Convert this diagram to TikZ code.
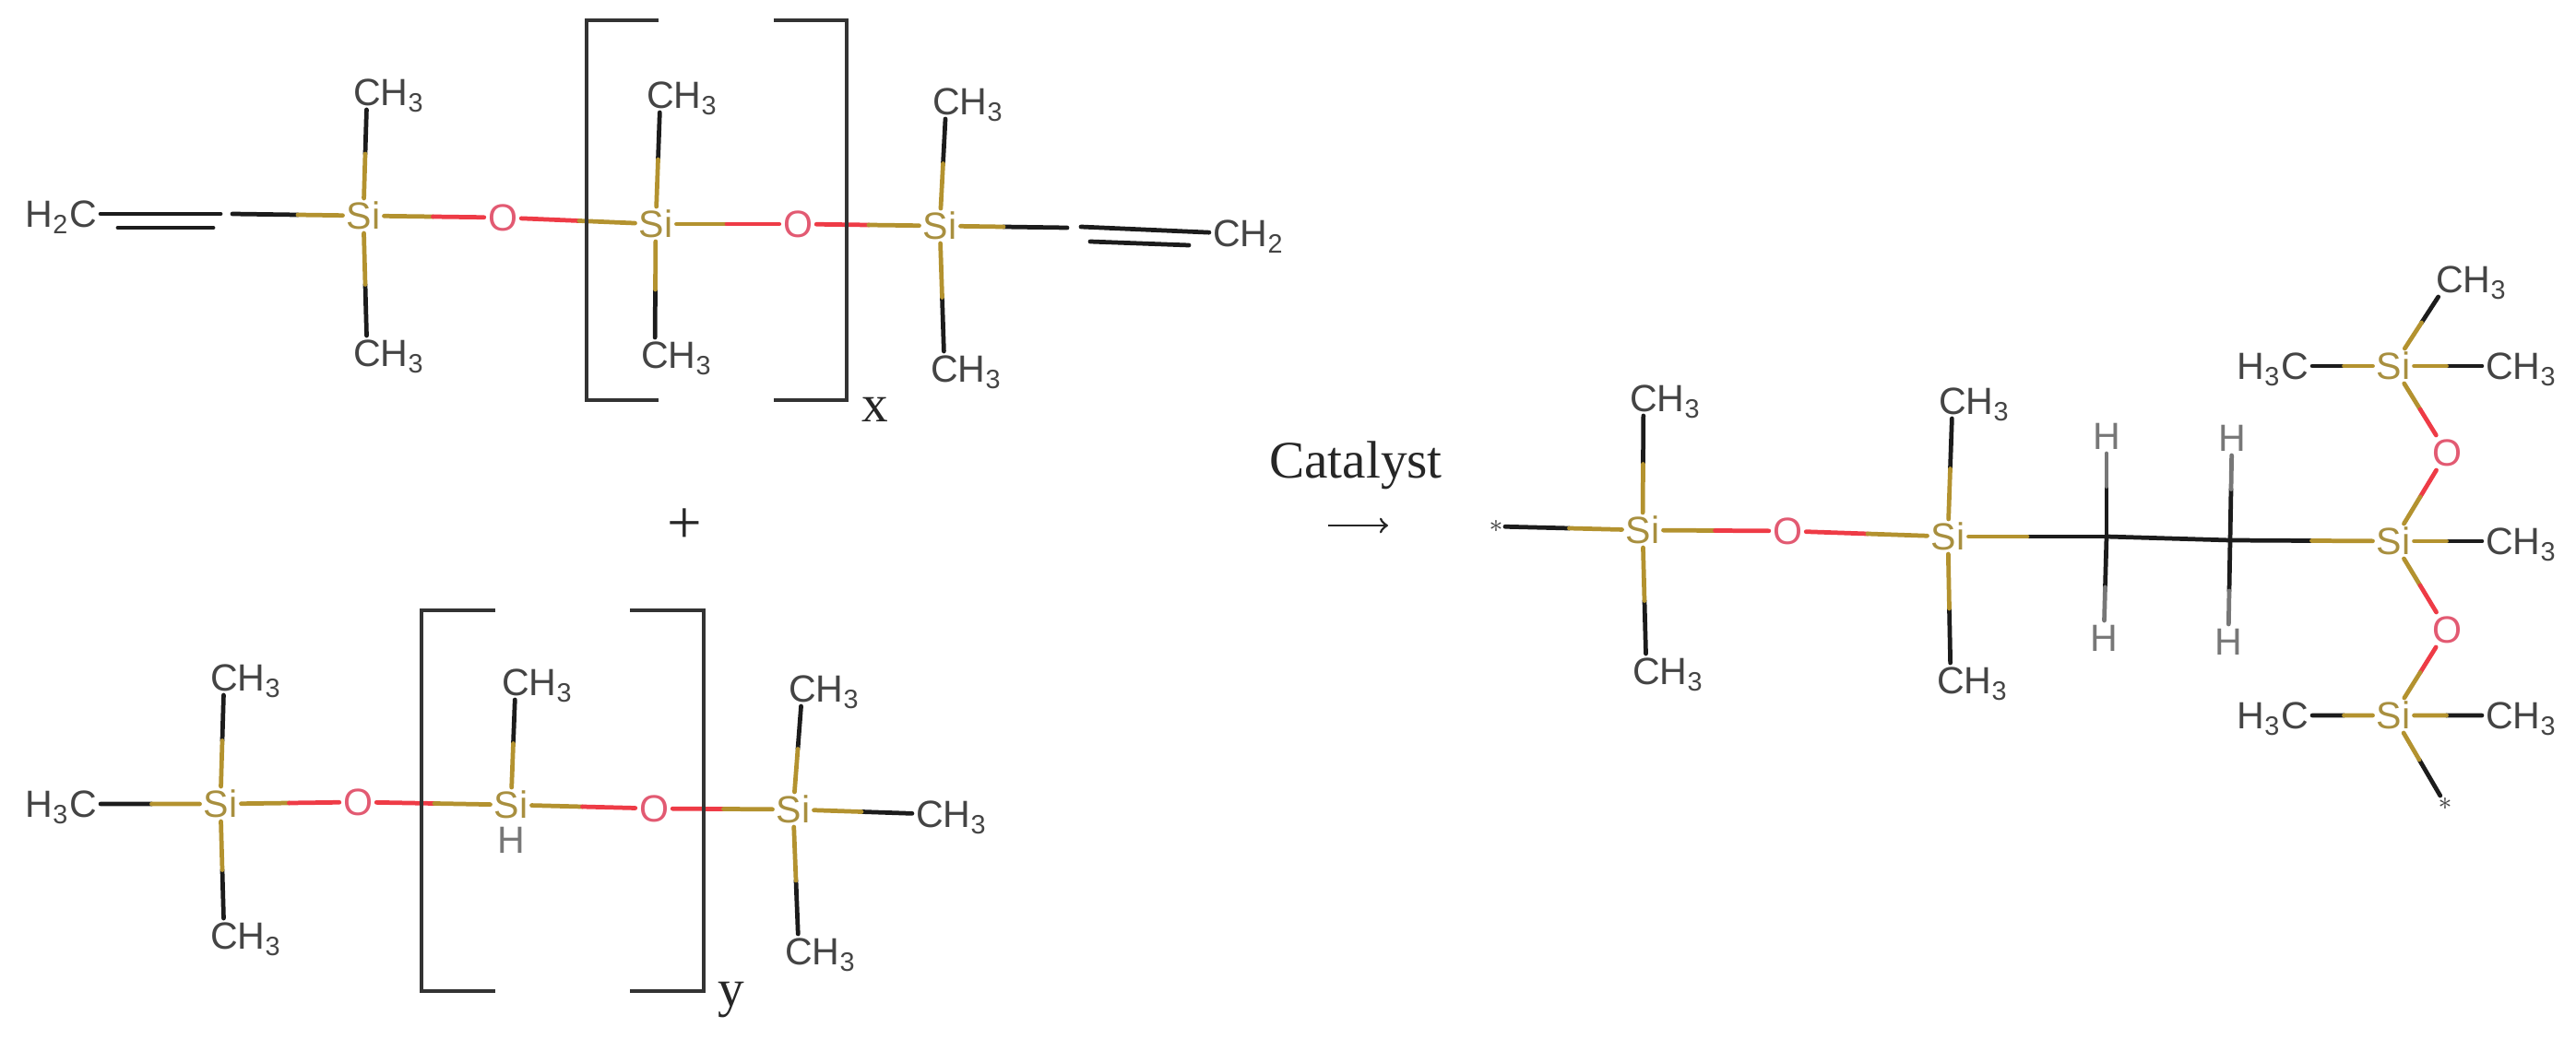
\documentclass[tikz,border=0pt]{standalone}
\usepackage{fontspec}
\setmainfont{Liberation Sans}
\newfontfamily\notefont{Liberation Serif}
\usepackage{tikz}
\usetikzlibrary{arrows,calc}
\definecolor{sicol}{HTML}{B3922F}
\definecolor{ocol}{HTML}{EE3B46}
\definecolor{ccol}{HTML}{1C1C1C}
\definecolor{hcol}{HTML}{777777}
\definecolor{sitext}{HTML}{A88F3F}
\definecolor{otext}{HTML}{E25A72}
\definecolor{atomtext}{HTML}{444444}
\newcommand{\chright}[1]{C\rlap{H\smash{\textsubscript{#1}}}}
\newcommand{\chleft}[1]{\llap{H\smash{\textsubscript{#1}}}C}
\newcommand{\bond}[4]{\path[bondline] (#1) edge[#3] ($(#1)!.5!(#2)$) ($(#1)!.5!(#2)$) edge[#4] (#2);}
\begin{document}
\begin{tikzpicture}[>=to,
    atom/.style={inner sep=1pt,text height=8.4pt,text depth=0pt,text=atomtext,font=\fontsize{11.7}{14}\selectfont},
    si/.style={atom,text=sitext},
    ox/.style={atom,text=otext},
    hyd/.style={atom,text=hcol},
    endmark/.style={inner sep=.5pt,text=atomtext,font=\footnotesize},
    note/.style={inner sep=0pt,text=black!85,font=\notefont\fontsize{16.3}{18}\selectfont},
    bondline/.style={line width=1.35pt,line cap=round},
    bracketline/.style={line width=1.3pt,draw=black!80}]
  \useasboundingbox (0,0) rectangle (27.93,11.39);

  % vinyl siloxane
  \node[si] (a1) at (3.94,9.05) {Si};
  \node[ox] (a2) [right of=a1,node distance=1.51cm,yshift=-.02cm] {O};
  \node[si] (a3) [right of=a2,node distance=1.66cm,yshift=-.07cm] {Si};
  \node[ox] (a4) [right of=a3,node distance=1.54cm] {O};
  \node[si] (a5) [right of=a4,node distance=1.54cm,yshift=-.02cm] {Si};
  \node[atom] (a6) [above of=a1,node distance=1.34cm,xshift=.04cm] {\chright{3}};
  \node[atom] (a7) [below of=a1,node distance=1.49cm,xshift=.04cm] {\chright{3}};
  \node[atom] (a8) [above of=a3,node distance=1.40cm,xshift=.05cm] {\chright{3}};
  \node[atom] (a9) [below of=a3,node distance=1.42cm,xshift=-.01cm] {\chright{3}};
  \node[atom] (a10) [above of=a5,node distance=1.35cm,xshift=.07cm] {\chright{3}};
  \node[atom] (a11) [below of=a5,node distance=1.55cm,xshift=.05cm] {\chright{3}};
  \node[atom] (a12) [left of=a1,node distance=3.04cm,yshift=.02cm] {\chleft{2}};
  \node[atom] (a13) [right of=a5,node distance=3.11cm,yshift=-.08cm] {\chright{2}};
  \coordinate[left of=a1,node distance=1.42cm,yshift=.02cm] (v1s);
  \coordinate[left of=a1,node distance=1.55cm,yshift=.02cm] (v1a);
  \coordinate[left of=a1,node distance=2.66cm,yshift=-.13cm] (v1b);
  \coordinate[left of=a1,node distance=1.63cm,yshift=-.13cm] (v1c);
  \coordinate[right of=a5,node distance=1.38cm,yshift=-.02cm] (v2s);
  \coordinate[right of=a5,node distance=1.53cm,yshift=-.01cm] (v2a);
  \coordinate[right of=a5,node distance=1.63cm,yshift=-.17cm] (v2b);
  \coordinate[right of=a5,node distance=2.70cm,yshift=-.21cm] (v2c);

  \bond{a1}{a2}{sicol}{ocol}
  \bond{a2}{a3}{ocol}{sicol}
  \bond{a3}{a4}{sicol}{ocol}
  \bond{a4}{a5}{ocol}{sicol}
  \bond{a6}{a1}{ccol}{sicol}
  \bond{a7}{a1}{ccol}{sicol}
  \bond{a8}{a3}{ccol}{sicol}
  \bond{a9}{a3}{ccol}{sicol}
  \bond{a10}{a5}{ccol}{sicol}
  \bond{a11}{a5}{ccol}{sicol}
  \bond{v1s}{a1}{ccol}{sicol}
  \bond{v2s}{a5}{ccol}{sicol}
  \path[bondline,draw=ccol] (a12) edge (v1a)
        (v1b) edge (v1c)
        (v2a) edge (a13)
        (v2b) edge (v2c);

  \draw[bracketline] (7.14,11.17) -| (6.36,7.05) -- (7.14,7.05);
  \draw[bracketline] (8.39,11.17) -| (9.18,7.05) -- (8.39,7.05);
  \node[note] (xlabel) at (9.49,6.95) {x};

  % hydride siloxane
  \node[si] (b1) at (2.39,2.67) {Si};
  \node[ox] (b2) [right of=b1,node distance=1.49cm,yshift=.02cm] {O};
  \node[si] (b3) [right of=b2,node distance=1.66cm,yshift=-.03cm] {Si};
  \node[ox] (b4) [right of=b3,node distance=1.55cm,yshift=-.04cm] {O};
  \node[si] (b5) [right of=b4,node distance=1.51cm,yshift=-.01cm] {Si};
  \node[atom] (b6) [left of=b1,node distance=1.49cm] {\chleft{3}};
  \node[atom] (b7) [above of=b1,node distance=1.37cm,xshift=.04cm] {\chright{3}};
  \node[atom] (b8) [below of=b1,node distance=1.43cm,xshift=.04cm] {\chright{3}};
  \node[atom] (b9) [above of=b3,node distance=1.33cm,xshift=.05cm] {\chright{3}};
  \node[hyd] (b10) [below of=b3,node distance=.38cm] {H};
  \node[atom] (b11) [above of=b5,node distance=1.31cm,xshift=.10cm] {\chright{3}};
  \node[atom] (b12) [below of=b5,node distance=1.54cm,xshift=.06cm] {\chright{3}};
  \node[atom] (b13) [right of=b5,node distance=1.48cm,yshift=-.05cm] {\chright{3}};

  \bond{b1}{b2}{sicol}{ocol}
  \bond{b2}{b3}{ocol}{sicol}
  \bond{b3}{b4}{sicol}{ocol}
  \bond{b4}{b5}{ocol}{sicol}
  \bond{b6}{b1}{ccol}{sicol}
  \bond{b7}{b1}{ccol}{sicol}
  \bond{b8}{b1}{ccol}{sicol}
  \bond{b9}{b3}{ccol}{sicol}
  \bond{b11}{b5}{ccol}{sicol}
  \bond{b12}{b5}{ccol}{sicol}
  \bond{b13}{b5}{ccol}{sicol}

  \draw[bracketline] (5.37,4.77) -| (4.57,.64) -- (5.37,.64);
  \draw[bracketline] (6.83,4.77) -| (7.63,.64) -- (6.83,.64);
  \node[note] (ylabel) at (7.93,.54) {y};

  \node[note,font=\notefont\fontsize{19}{21}\selectfont] (plus) at (7.42,5.68) {+};
  \node[note] (catalyst) at (14.70,6.34) {Catalyst};
  \coordinate (arrowbeg) at (14.40,5.69);
  \coordinate (arrowend) at (15.05,5.69);
  \path (arrowbeg) edge[->,line width=.8pt,draw=black!85] (arrowend);

  % crosslinked product
  \node[si] (c1) at (17.81,5.64) {Si};
  \node[endmark] (c0) [left of=c1,node distance=1.59cm,yshift=.04cm] {$*$};
  \node[ox] (c2) [right of=c1,node distance=1.57cm,yshift=-.01cm] {O};
  \node[si] (c3) [right of=c2,node distance=1.74cm,yshift=-.06cm] {Si};
  \coordinate[right of=c3,node distance=1.72cm] (c4);
  \coordinate[right of=c4,node distance=1.34cm,yshift=-.04cm] (c5);
  \node[si] (c6) [right of=c5,node distance=1.77cm,yshift=-.01cm] {Si};
  \node[atom] (c7) [above of=c1,node distance=1.43cm,xshift=.01cm] {\chright{3}};
  \node[atom] (c8) [below of=c1,node distance=1.53cm,xshift=.04cm] {\chright{3}};
  \node[atom] (c9) [above of=c3,node distance=1.47cm,xshift=.05cm] {\chright{3}};
  \node[atom] (c10) [below of=c3,node distance=1.56cm,xshift=.03cm] {\chright{3}};
  \node[hyd] (c11) [above of=c4,node distance=1.09cm] {H};
  \node[hyd] (c12) [below of=c4,node distance=1.10cm,xshift=-.03cm] {H};
  \node[hyd] (c13) [above of=c5,node distance=1.11cm,xshift=.02cm] {H};
  \node[hyd] (c14) [below of=c5,node distance=1.10cm,xshift=-.02cm] {H};
  \node[ox] (c15) [right of=c6,node distance=.58cm,yshift=.96cm] {O};
  \node[ox] (c16) [right of=c6,node distance=.58cm,yshift=-.96cm] {O};
  \node[si] (c17) [above of=c6,node distance=1.90cm] {Si};
  \node[si] (c18) [below of=c6,node distance=1.89cm] {Si};
  \node[atom] (c19) [right of=c6,node distance=1.15cm] {\chright{3}};
  \node[atom] (c20) [left of=c17,node distance=1.07cm] {\chleft{3}};
  \node[atom] (c21) [right of=c17,node distance=1.15cm] {\chright{3}};
  \node[atom] (c22) [right of=c17,node distance=.61cm,yshift=.94cm] {\chright{3}};
  \node[atom] (c23) [left of=c18,node distance=1.07cm] {\chleft{3}};
  \node[atom] (c24) [right of=c18,node distance=1.15cm] {\chright{3}};
  \node[endmark] (c25) [right of=c18,node distance=.56cm,yshift=-.96cm] {$*$};

  \bond{c0}{c1}{ccol}{sicol}
  \bond{c1}{c2}{sicol}{ocol}
  \bond{c2}{c3}{ocol}{sicol}
  \bond{c7}{c1}{ccol}{sicol}
  \bond{c8}{c1}{ccol}{sicol}
  \bond{c9}{c3}{ccol}{sicol}
  \bond{c10}{c3}{ccol}{sicol}
  \bond{c4}{c3}{ccol}{sicol}
  \bond{c5}{c6}{ccol}{sicol}
  \bond{c4}{c11}{ccol}{hcol}
  \bond{c4}{c12}{ccol}{hcol}
  \bond{c5}{c13}{ccol}{hcol}
  \bond{c5}{c14}{ccol}{hcol}
  \path[bondline,draw=ccol] (c4) edge (c5);
  \bond{c17}{c15}{sicol}{ocol}
  \bond{c15}{c6}{ocol}{sicol}
  \bond{c6}{c16}{sicol}{ocol}
  \bond{c16}{c18}{ocol}{sicol}
  \bond{c19}{c6}{ccol}{sicol}
  \bond{c20}{c17}{ccol}{sicol}
  \bond{c21}{c17}{ccol}{sicol}
  \bond{c22}{c17}{ccol}{sicol}
  \bond{c23}{c18}{ccol}{sicol}
  \bond{c24}{c18}{ccol}{sicol}
  \bond{c25}{c18}{ccol}{sicol}
\end{tikzpicture}
\end{document}
